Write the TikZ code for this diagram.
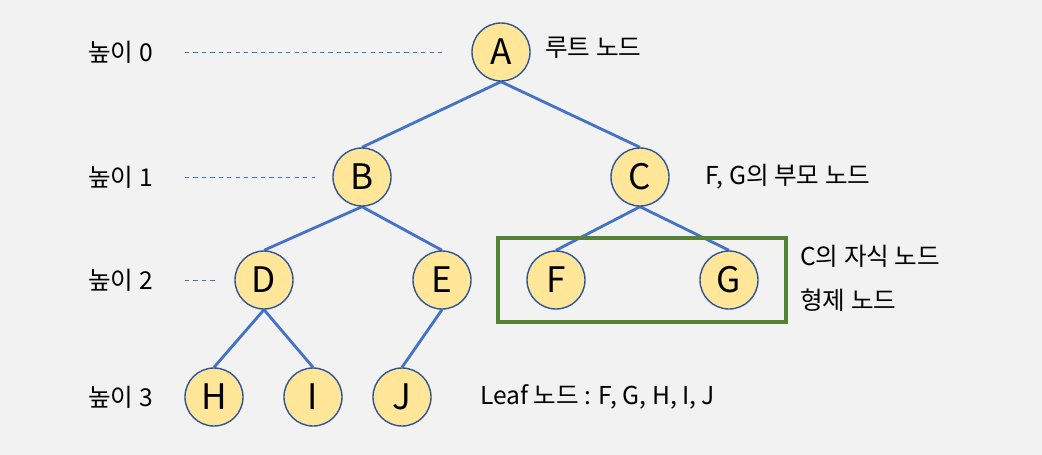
\documentclass[tikz,border=0pt]{standalone}
\usepackage{fontspec}
\setmainfont{Noto Sans CJK KR}
\usetikzlibrary{positioning}
\pgfdeclarelayer{bg}
\pgfsetlayers{bg,main}
\definecolor{pagegray}{HTML}{F2F2F2}
\definecolor{nodefill}{HTML}{FFE699}
\definecolor{nodeline}{HTML}{2F5597}
\definecolor{edgeblue}{HTML}{4472C4}
\definecolor{boxgreen}{HTML}{548235}
\begin{document}
\begin{tikzpicture}[
    x = 0.025cm, y = -0.025cm,
    treenode/.style = {
      circle, draw = nodeline, fill = nodefill,
      line width = 1pt, minimum size = 1.45cm, inner sep = 0,
      font = \fontsize{25}{28}\selectfont,
    },
    treeedge/.style = {draw = edgeblue, line width = 2pt},
    levelline/.style = {draw = edgeblue, line width = 0.6pt, dashed},
    note/.style = {anchor = west, inner sep = 0, font = \fontsize{17.5}{20}\selectfont},
    siblingbox/.style = {
      draw = boxgreen, line width = 2.8pt,
      minimum width = 7.2cm, minimum height = 2.1cm,
    },
  ]
  % tree
  \node[treenode] (A) at (501,52) {A};
  \node[treenode] (B) at (362,177) {B};
  \node[treenode] (C) at (640,177) {C};
  \node[treenode] (D) at (264,280) {D};
  \node[treenode] (E) at (442,280) {E};
  \node[treenode] (F) at (556,280) {F};
  \node[treenode] (G) at (729,280) {G};
  \node[treenode] (H) at (214,397) {H};
  \node[treenode] (I) at (313,397) {I};
  \node[treenode] (J) at (402,397) {J};
  \begin{pgfonlayer}{bg}
    \fill[pagegray] (0,0) rectangle (1042,455);
    \foreach \p/\c in {A/B, A/C, B/D, B/E, C/F, C/G, D/H, D/I, E/J}
      \draw[treeedge] (\p.south) -- (\c.north);
  \end{pgfonlayer}

  \node[siblingbox] (sib) at (642,280) {};

  % levels
  \foreach \n/\y/\e in {0/52/442, 1/177/315, 2/280/215, 3/397/0}
  {
    \node[note] (h\n) at (88,\y) {높이 \n};
    \ifnum\e>0
      \coordinate (s\n) at (185,\y);
      \coordinate (e\n) at (\e,\y);
      \draw[levelline] (s\n) -- (e\n);
    \fi
  }

  % notes
  \node[note] (root) at (545,48) {루트 노드};
  \node[note] (parent) at (705,177) {F, G의 부모 노드};
  \node[note] (child) at (800,256) {C의 자식 노드};
  \node[note] (sibling) at (800,300) {형제 노드};
  \node[note] (leaf) at (480,397) {Leaf 노드 : F, G, H, I, J};
\end{tikzpicture}
\end{document}
